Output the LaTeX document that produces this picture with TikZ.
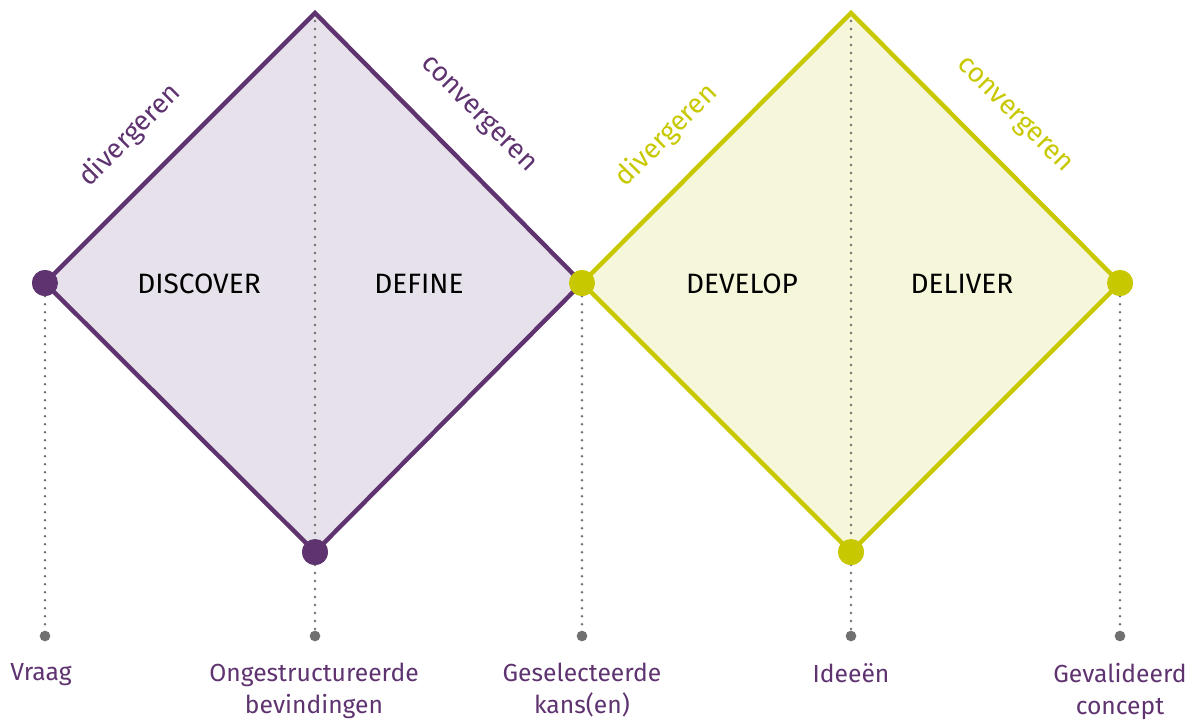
\documentclass[tikz,border=0pt]{standalone}
\usepackage{fontspec}
\setmainfont{Fira Sans}
\usetikzlibrary{positioning}
\definecolor{paars}{HTML}{5E3370}
\definecolor{paarslicht}{HTML}{E6E1EA}
\definecolor{geel}{HTML}{C8C800}
\definecolor{geellicht}{HTML}{F6F6DA}
\definecolor{grijs}{HTML}{707070}

\begin{document}
\begin{tikzpicture}[x=0.75pt, y=-0.75pt,
    pdot/.style={circle, fill=paars, inner sep=0pt, minimum size=19.5pt},
    gdot/.style={circle, fill=geel, inner sep=0pt, minimum size=19.5pt},
    enddot/.style={circle, fill=grijs, inner sep=0pt, minimum size=8pt},
    dots/.style={grijs, line width=2pt, line cap=round, dash pattern=on 0pt off 6pt},
    phase/.style={font=\fontsize{21}{25}\selectfont},
    side/.style={font=\fontsize{20.5}{24}\selectfont, sloped},
    result/.style={font=\fontsize{18.5}{24}\selectfont, text=paars, align=center, anchor=north, inner sep=0pt}]
    \useasboundingbox (0,0) rectangle (1192,722);
        % hoekpunten
        \coordinate (t1) at (315,13);
        \coordinate (t2) at (851,13);
        \node[pdot] (v1) at (45,283) {};
        \node[gdot] (v2) at (582,283) {};
        \node[gdot] (v3) at (1120,283) {};
        \node[pdot] (b1) at (315,552) {};
        \node[gdot] (b2) at (851,552) {};
        % eindpunten
        \node[enddot] (g1) at (45,636) {};
        \node[enddot] (g2) at (315,636) {};
        \node[enddot] (g3) at (582,636) {};
        \node[enddot] (g4) at (851,636) {};
        \node[enddot] (g5) at (1120,636) {};
        % vlakken
        \fill[paarslicht] (v1.center) -- (t1) -- (v2.center) -- (b1.center) -- cycle;
        \fill[geellicht] (v2.center) -- (t2) -- (v3.center) -- (b2.center) -- cycle;
        \draw[dots] (v1) -- (g1);
        \draw[dots] (t1) -- (g2);
        \draw[dots] (v2) -- (g3);
        \draw[dots] (t2) -- (g4);
        \draw[dots] (v3) -- (g5);
        \draw[paars, line width=3.3pt] (v1.center) -- (t1) -- (v2.center) -- (b1.center) -- cycle;
        \draw[geel, line width=3.3pt] (v2.center) -- (t2) -- (v3.center) -- (b2.center) -- cycle;
        \node[pdot] at (v1) {};
        \node[pdot] at (b1) {};
        \node[gdot] at (v2) {};
        \node[gdot] at (v3) {};
        \node[gdot] at (b2) {};
        % zijden
        \path (v1) -- node[side, text=paars, pos=0.41, yshift=33pt] (s1) {divergeren} (t1);
        \path (t1) -- node[side, text=paars, pos=0.51, yshift=33pt] (s2) {convergeren} (v2);
        \path (v2) -- node[side, text=geel, pos=0.41, yshift=33pt] (s3) {divergeren} (t2);
        \path (t2) -- node[side, text=geel, pos=0.51, yshift=32pt] (s4) {convergeren} (v3);
        % fasen
        \node[phase] (discover) at (199,284) {DISCOVER};
        \node[phase] (define) at (419,284) {DEFINE};
        \node[phase] (develop) at (742,284) {DEVELOP};
        \node[phase] (deliver) at (962,284) {DELIVER};
        % resultaten
        \node[result] (r1) at (41,663) {Vraag};
        \node[result] (r2) at (314,663) {Ongestructureerde\\bevindingen};
        \node[result] (r3) at (582,663) {Geselecteerde\\kans(en)};
        \node[result] (r4) at (851,663) {Ideeën};
        \node[result] (r5) at (1120,663) {Gevalideerd\\concept};
    \end{tikzpicture}
\end{document}
